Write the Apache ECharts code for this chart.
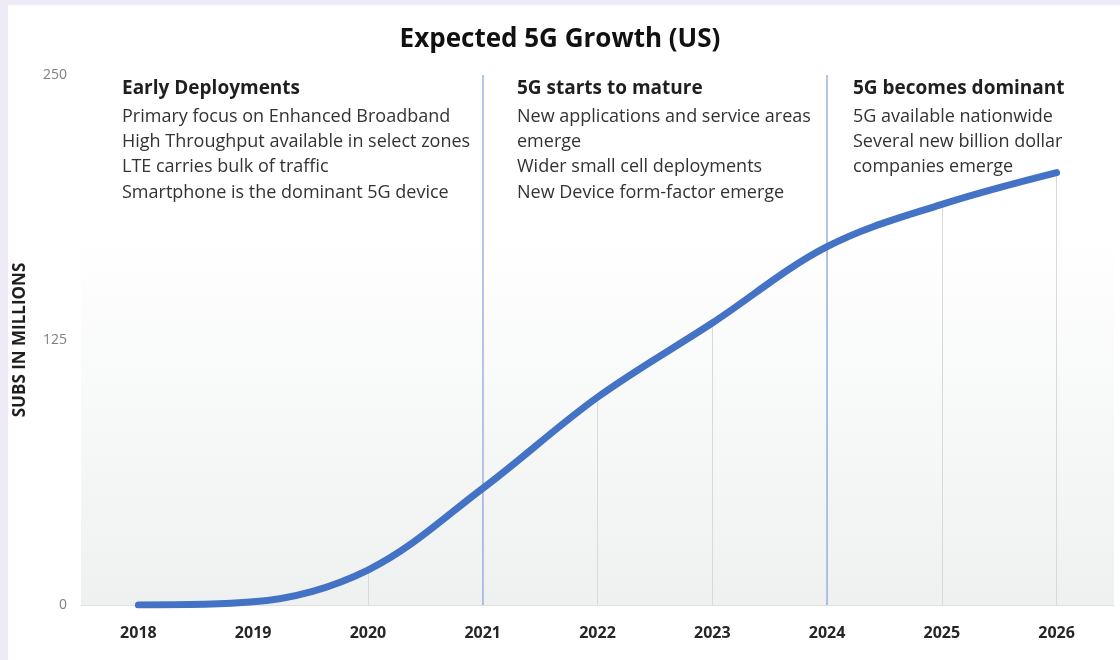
<!DOCTYPE html>
<html>
<head>
<meta charset="utf-8">
<style>
html,body{margin:0;padding:0;background:#eeeaf6;}
#chart{width:1120px;height:660px;}
</style>
<script src="https://cdn.jsdelivr.net/npm/echarts@6/dist/echarts.min.js"></script>
</head>
<body>
<div id="chart"></div>
<script>
const years = ['2018','2019','2020','2021','2022','2023','2024','2025','2026'];
const subs = [0, 1.5, 16.5, 55, 98, 133, 169, 189, 204];
const yMin = 0, yMax = 250, yStep = 125;
const phaseBreaks = ['2021', '2024'];
const phaseTitles = ['Early Deployments', '5G starts to mature', '5G becomes dominant'];
const phaseLines = [
  ['Primary focus on Enhanced Broadband', 'High Throughput available in select zones', 'LTE carries bulk of traffic', 'Smartphone is the dominant 5G device'],
  ['New applications and service areas', 'emerge', 'Wider small cell deployments', 'New Device form-factor emerge'],
  ['5G available nationwide', 'Several new billion dollar', 'companies emerge']
];
const chartTitle = 'Expected 5G Growth (US)';
const yName = 'SUBS IN MILLIONS';

const FONT = '"Open Sans", Lato, sans-serif';
const textX = [122, 517, 853];

const chart = echarts.init(document.getElementById('chart'));

const graphics = [
  { type: 'rect', z: -10, shape: { x: 8, y: 5, width: 1112, height: 655 }, style: { fill: '#ffffff' }, silent: true }
];
phaseTitles.forEach((t, i) => {
  graphics.push({
    type: 'text', left: textX[i], top: 79, z: 10,
    style: { text: t, font: 'bold 19px ' + FONT, fill: '#1f1f1f' }
  });
  graphics.push({
    type: 'text', left: textX[i], top: 104, z: 10,
    style: { text: phaseLines[i].join('\n'), font: '18px ' + FONT, fill: '#333333', lineHeight: 25.3 }
  });
});

const dropData = years.map((y, i) => [{ coord: [y, 0] }, { coord: [y, subs[i]] }]);
const breakData = phaseBreaks.map(y => [{ coord: [y, yMax] }, { coord: [y, yMin] }]);

chart.setOption({
  backgroundColor: 'transparent',
  animation: false,
  title: {
    text: chartTitle, left: 'center', top: 22,
    textStyle: { fontFamily: FONT, fontSize: 26, fontWeight: 'bold', color: '#111111' }
  },
  graphic: graphics,
  grid: {
    left: 81, right: 6, top: 75, bottom: 55, show: true, borderWidth: 0,
    backgroundColor: {
      type: 'linear', x: 0, y: 0, x2: 0, y2: 1,
      colorStops: [{ offset: 0, color: '#ffffff' }, { offset: 0.3, color: '#ffffff' }, { offset: 1, color: '#eff1f1' }]
    }
  },
  xAxis: {
    type: 'category', data: years, boundaryGap: true,
    axisLine: { lineStyle: { color: '#e0e0e0', width: 1 } },
    axisTick: { show: false },
    splitLine: { show: false },
    axisLabel: { fontFamily: FONT, fontSize: 16, fontWeight: 'bold', color: '#262626', margin: 20 }
  },
  yAxis: {
    type: 'value', min: yMin, max: yMax, interval: yStep,
    axisLine: { show: false }, axisTick: { show: false }, splitLine: { show: false },
    axisLabel: { fontFamily: FONT, fontSize: 14, color: '#808080', margin: 14 },
    name: yName, nameLocation: 'middle', nameGap: 52, nameRotate: 90,
    nameTextStyle: { fontFamily: FONT, fontSize: 17, fontWeight: 'bold', color: '#1f1f1f' }
  },
  series: [
    {
      type: 'line', data: [], silent: true, z: 1,
      markLine: {
        silent: true, symbol: 'none', label: { show: false }, animation: false,
        lineStyle: { color: '#d9d9d9', width: 1, type: 'solid' },
        data: dropData
      }
    },
    {
      type: 'line', data: [], silent: true, z: 2,
      markLine: {
        silent: true, symbol: 'none', label: { show: false }, animation: false,
        lineStyle: { color: '#9db3dc', width: 1.5, type: 'solid' },
        data: breakData
      }
    },
    {
      type: 'line', data: subs, smooth: 0.35, symbol: 'none', z: 5,
      lineStyle: { color: '#4472c4', width: 7, cap: 'round' }
    }
  ]
});
</script>
</body>
</html>
